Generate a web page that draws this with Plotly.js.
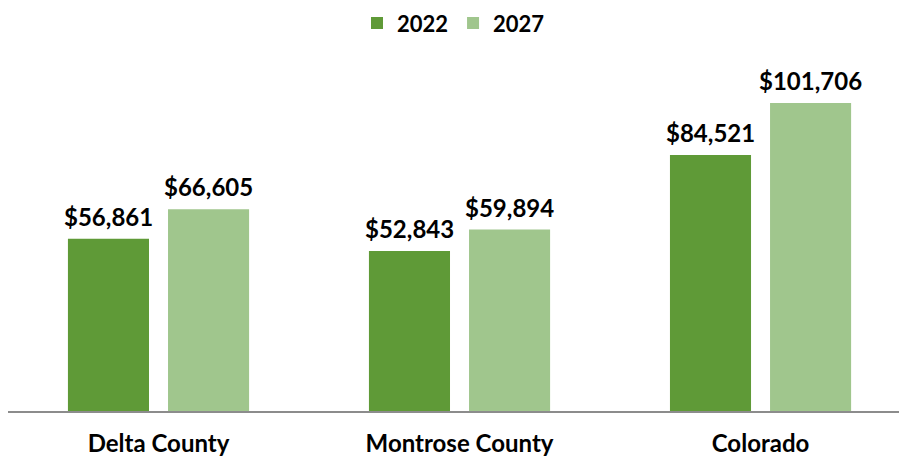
<!DOCTYPE html>
<html>
<head>
<meta charset="utf-8">
<script src="https://cdn.plot.ly/plotly-3.0.1.min.js"></script>
<style>
  body { margin: 0; background: #fff; }
  #chart { width: 899px; height: 458px; }
</style>
</head>
<body>
<div id="chart"></div>
<script>
// median household income
var areas = ["Delta County", "Montrose County", "Colorado"];
var years = ["2022", "2027"];
var income2022 = [56861, 52843, 84521];
var income2027 = [66605, 59894, 101706];

function money(v) {
  return "$" + v.toLocaleString("en-US");
}

var FONT = "Lato, 'Open Sans', sans-serif";

var data = [
  {x: areas, y: income2022, name: years[0], type: "bar", marker: {color: "#5f9a37"}, hoverinfo: "none"},
  {x: areas, y: income2027, name: years[1], type: "bar", marker: {color: "#a0c68d"}, hoverinfo: "none"}
];

// value labels sit over each bar, nudged left/right to the bar in the group
var notes = [];
[income2022, income2027].forEach(function(series, s) {
  series.forEach(function(v, i) {
    notes.push({
      x: areas[i], y: v, xref: "x", yref: "y",
      xshift: s === 0 ? -50 : 50, yshift: 6,
      yanchor: "bottom", showarrow: false,
      text: money(v),
      font: {family: FONT, size: 24, color: "#000", weight: "bold"}
    });
  });
});

var layout = {
  width: 899, height: 458,
  margin: {l: 8, r: 0, t: 60, b: 47},
  paper_bgcolor: "#fff", plot_bgcolor: "#fff",
  barmode: "group", bargap: 0.335, bargroupgap: 0.19,
  showlegend: true,
  legend: {
    orientation: "h", x: 0.5, xanchor: "center", y: 0.995, yanchor: "top",
    yref: "container", font: {family: FONT, size: 22, color: "#000", weight: "bold"},
    itemwidth: 30
  },
  annotations: notes,
  xaxis: {
    range: [-0.5, 2.46], showline: true, linecolor: "#8c8c8c", linewidth: 2,
    ticks: "", ticklabelstandoff: 10,
    tickfont: {family: FONT, size: 24, color: "#000", weight: "bold"},
    fixedrange: true
  },
  yaxis: {range: [0, 115900], visible: false, showgrid: false, zeroline: false, fixedrange: true}
};

Plotly.newPlot("chart", data, layout, {displayModeBar: false, staticPlot: true});
</script>
</body>
</html>
